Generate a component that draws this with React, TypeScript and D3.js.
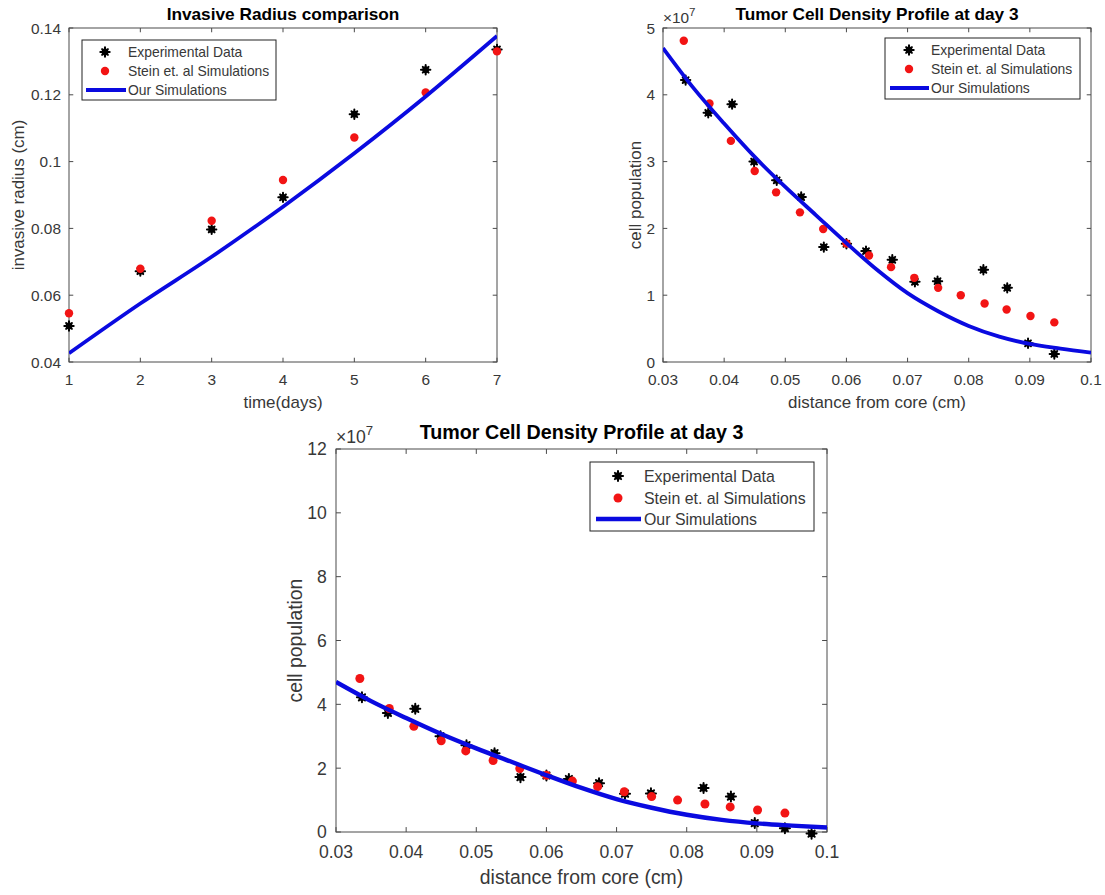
import React from "react";
import * as d3 from "d3";

// invasive radius vs time
const days = [1, 2, 3, 4, 5, 6, 7];
const radiusExp = [0.0508, 0.0672, 0.0797, 0.0893, 0.1142, 0.1275, 0.1336];
const radiusStein = [0.0546, 0.0679, 0.0823, 0.0945, 0.1072, 0.1207, 0.133];
const radiusOurs = [0.0426, 0.0575, 0.0715, 0.0865, 0.1025, 0.1195, 0.1376];

// cell density profile at day 3 (cell population in units of 1e7)
const distExp = [0.0337, 0.0374, 0.0413, 0.0449, 0.0486, 0.0526, 0.0563, 0.06, 0.0632, 0.0675, 0.0712, 0.0749, 0.0824, 0.0863, 0.0897, 0.094, 0.0978];
const popExp = [4.22, 3.73, 3.86, 3.0, 2.72, 2.47, 1.72, 1.77, 1.66, 1.53, 1.2, 1.21, 1.38, 1.11, 0.28, 0.12, -0.05];
const distStein = [0.0334, 0.0376, 0.0411, 0.045, 0.0485, 0.0524, 0.0562, 0.06, 0.0637, 0.0673, 0.0711, 0.075, 0.0787, 0.0826, 0.0862, 0.0901, 0.094];
const popStein = [4.81, 3.87, 3.31, 2.86, 2.54, 2.24, 1.99, 1.775, 1.595, 1.42, 1.26, 1.11, 1.0, 0.876, 0.787, 0.688, 0.593];
const distOurs = [0.03, 0.035, 0.04, 0.045, 0.05, 0.055, 0.06, 0.065, 0.07, 0.075, 0.08, 0.085, 0.09, 0.095, 0.1];
const popOurs = [4.7, 4.1, 3.57, 3.07, 2.62, 2.2, 1.78, 1.38, 1.03, 0.76, 0.54, 0.38, 0.27, 0.2, 0.14];

const dayTicks = [1, 2, 3, 4, 5, 6, 7];
const radiusTicks = [0.04, 0.06, 0.08, 0.1, 0.12, 0.14];
const distTicks = [0.03, 0.04, 0.05, 0.06, 0.07, 0.08, 0.09, 0.1];
const popTicksTop = [0, 1, 2, 3, 4, 5];
const popTicksBottom = [0, 2, 4, 6, 8, 10, 12];

const legendLabels = ["Experimental Data", "Stein et. al Simulations", "Our Simulations"];

const FONT = "'Liberation Sans', Arial, Helvetica, sans-serif";
const TXT = "#383838";
const AX = "#4a4a4a";
const RED = "#f21414";
const BLUE = "#0a0ae0";

type Pt = [number, number];
const zip = (xs: number[], ys: number[]): Pt[] => xs.map((x, i) => [x, ys[i]]);

const fmt = d3.format("~g");

// heavy asterisk marker: reads as a black blob with short spikes
const Star = ({ cx, cy, a }: { cx: number; cy: number; a: number }) => {
  const d = a * 0.62;
  return (
    <g transform={`translate(${cx},${cy})`}>
      <circle r={a * 0.72} fill="#000" />
      <path d={`M${-a},0H${a}M0,${-a}V${a}M${-d},${-d}L${d},${d}M${-d},${d}L${d},${-d}`}
        stroke="#000" strokeWidth={2} strokeLinecap="round" fill="none" />
    </g>
  );
};

interface LegendCfg {
  x: number; y: number; w: number; h: number;
  rows: number[]; mx: number; tx: number; l0: number; l1: number; fs: number;
}

interface PanelProps {
  id: string;
  left: number; top: number; width: number; height: number;
  xDomain: [number, number]; yDomain: [number, number];
  xTicks: number[]; yTicks: number[];
  title: string; xLabel: string; yLabel: string; yLabelX: number;
  exp: Pt[]; stein: Pt[]; ours: Pt[];
  fs: number; exponent?: boolean; r: number; lw: number;
  legend: LegendCfg;
}

const Panel = (p: PanelProps) => {
  const x = d3.scaleLinear().domain(p.xDomain).range([p.left, p.left + p.width]);
  const y = d3.scaleLinear().domain(p.yDomain).range([p.top + p.height, p.top]);
  const bottom = p.top + p.height;
  const right = p.left + p.width;
  const tl = p.width * 0.01;
  const labelFs = p.fs * 1.1;
  const line = d3.line<Pt>().x(d => x(d[0])).y(d => y(d[1])).curve(d3.curveMonotoneX);
  const inside = (d: Pt) => y(d[1]) <= bottom + 2 && y(d[1]) >= p.top - 2;
  const L = p.legend;
  const sa = p.r * 1.12;

  return (
    <g fontFamily={FONT}>
      <defs>
        <clipPath id={`clip-${p.id}`}>
          <rect x={p.left} y={p.top} width={p.width} height={p.height} />
        </clipPath>
      </defs>

      {/* ticks, inward on all four sides */}
      {p.xTicks.map(t => (
        <g key={`xt${t}`} stroke={AX} strokeWidth={1}>
          <line x1={x(t)} x2={x(t)} y1={bottom} y2={bottom - tl} />
          <line x1={x(t)} x2={x(t)} y1={p.top} y2={p.top + tl} />
        </g>
      ))}
      {p.yTicks.map(t => (
        <g key={`yt${t}`} stroke={AX} strokeWidth={1}>
          <line x1={p.left} x2={p.left + tl} y1={y(t)} y2={y(t)} />
          <line x1={right} x2={right - tl} y1={y(t)} y2={y(t)} />
        </g>
      ))}
      <rect x={p.left} y={p.top} width={p.width} height={p.height} fill="none" stroke={AX} strokeWidth={1} />

      {p.xTicks.map(t => (
        <text key={`xl${t}`} x={x(t)} y={bottom + p.fs * 1.5} fontSize={p.fs} fill={TXT} textAnchor="middle">
          {fmt(t)}
        </text>
      ))}
      {p.yTicks.map(t => (
        <text key={`yl${t}`} x={p.left - p.fs * 0.52} y={y(t) + p.fs * 0.36} fontSize={p.fs} fill={TXT} textAnchor="end">
          {fmt(t)}
        </text>
      ))}
      {p.exponent && (
        <text x={p.left} y={p.top - p.fs * 0.35} fontSize={p.fs} fill={TXT}>
          ×10<tspan dy={-p.fs * 0.45} fontSize={p.fs * 0.75}>7</tspan>
        </text>
      )}

      <text x={p.left + p.width / 2} y={p.top - p.fs * 0.55} fontSize={p.fs * 1.12} fontWeight="bold" fill="#000" textAnchor="middle">
        {p.title}
      </text>
      <text x={p.left + p.width / 2} y={bottom + labelFs * 2.7} fontSize={labelFs} fill={TXT} textAnchor="middle">
        {p.xLabel}
      </text>
      <text
        transform={`translate(${p.yLabelX},${p.top + p.height / 2}) rotate(-90)`}
        fontSize={labelFs} fill={TXT} textAnchor="middle" dy="0.35em"
      >
        {p.yLabel}
      </text>

      {/* series: experimental, Stein, ours (line on top) */}
      <g>
        {p.exp.filter(inside).map((d, i) => (
          <Star key={`e${i}`} cx={x(d[0])} cy={y(d[1])} a={sa} />
        ))}
        {p.stein.filter(inside).map((d, i) => (
          <circle key={`s${i}`} cx={x(d[0])} cy={y(d[1])} r={p.r} fill={RED} />
        ))}
        <path d={line(p.ours) ?? ""} fill="none" stroke={BLUE} strokeWidth={p.lw} clipPath={`url(#clip-${p.id})`} />
      </g>

      {/* legend */}
      <g>
        <rect x={L.x} y={L.y} width={L.w} height={L.h} fill="#fff" stroke="#222" strokeWidth={1} />
        <Star cx={L.x + L.mx} cy={L.y + L.rows[0]} a={sa} />
        <circle cx={L.x + L.mx} cy={L.y + L.rows[1]} r={p.r} fill={RED} />
        <line x1={L.x + L.l0} x2={L.x + L.l1} y1={L.y + L.rows[2]} y2={L.y + L.rows[2]} stroke={BLUE} strokeWidth={p.lw} />
        {legendLabels.map((t, i) => (
          <text key={t} x={L.x + L.tx} y={L.y + L.rows[i]} dy="0.35em" fontSize={L.fs} fill={TXT}>
            {t}
          </text>
        ))}
      </g>
    </g>
  );
};

const App = () => {
  const radiusData = {
    exp: zip(days, radiusExp),
    stein: zip(days, radiusStein),
    ours: zip(days, radiusOurs),
  };
  const densityData = {
    exp: zip(distExp, popExp),
    stein: zip(distStein, popStein),
    ours: zip(distOurs, popOurs),
  };

  return (
    <svg width={1105} height={895} style={{ position: "absolute", left: 0, top: 0, background: "#fff" }}>
      <rect width={1105} height={895} fill="#fff" />
      <Panel
        id="radius" left={69} top={28} width={428} height={334}
        xDomain={[1, 7]} yDomain={[0.04, 0.14]} xTicks={dayTicks} yTicks={radiusTicks}
        title="Invasive Radius comparison" xLabel="time(days)" yLabel="invasive radius (cm)" yLabelX={18}
        {...radiusData} fs={15.4} r={4.2} lw={3.8}
        legend={{ x: 82, y: 40, w: 194, h: 60, rows: [12, 31, 50], mx: 23, tx: 46, l0: 4, l1: 44, fs: 13.9 }}
      />
      <Panel
        id="densTop" left={663} top={28} width={428} height={334}
        xDomain={[0.03, 0.1]} yDomain={[0, 5]} xTicks={distTicks} yTicks={popTicksTop}
        title="Tumor Cell Density Profile at day 3" xLabel="distance from core (cm)" yLabel="cell population" yLabelX={635}
        {...densityData} fs={15.4} exponent r={4.2} lw={3.8}
        legend={{ x: 885, y: 38, w: 195, h: 61, rows: [12, 31, 50], mx: 24, tx: 46, l0: 5, l1: 44, fs: 13.9 }}
      />
      <Panel
        id="densBottom" left={336} top={449} width={491} height={383}
        xDomain={[0.03, 0.1]} yDomain={[0, 12]} xTicks={distTicks} yTicks={popTicksBottom}
        title="Tumor Cell Density Profile at day 3" xLabel="distance from core (cm)" yLabel="cell population" yLabelX={295}
        {...densityData} fs={17.6} exponent r={4.5} lw={4.4}
        legend={{ x: 590, y: 462, w: 224, h: 69, rows: [14, 36, 57], mx: 28, tx: 54, l0: 6, l1: 51, fs: 15.9 }}
      />
    </svg>
  );
};

export default App;
